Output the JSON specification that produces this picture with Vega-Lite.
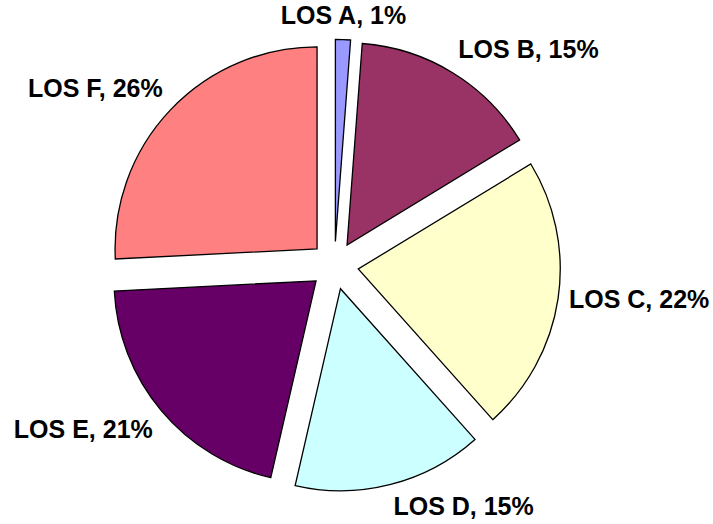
{
  "$schema": "https://vega.github.io/schema/vega-lite/v6.json",
  "width": 713,
  "height": 524,
  "padding": 0,
  "autosize": {"type": "fit", "contains": "padding"},
  "background": "white",
  "config": {"view": {"stroke": null}},
  "data": {
    "values": [
      {"cat": "LOS A", "pct": 1.2},
      {"cat": "LOS B", "pct": 15.1},
      {"cat": "LOS C", "pct": 22.1},
      {"cat": "LOS D", "pct": 15.2},
      {"cat": "LOS E", "pct": 20.6},
      {"cat": "LOS F", "pct": 25.8}
    ]
  },
  "transform": [
    {"window": [{"op": "sum", "field": "pct", "as": "cum"}], "sort": [{"field": "cat"}], "frame": [null, 0]},
    {"calculate": "datum.cum - datum.pct", "as": "start"},
    {"calculate": "datum.cum - datum.pct / 2", "as": "midp"},
    {"calculate": "datum.midp / 100 * 2 * PI", "as": "mid"},
    {"calculate": "0.119 * sin(datum.mid)", "as": "ox"},
    {"calculate": "-0.119 * cos(datum.mid)", "as": "oy"},
    {"calculate": "datum.cat + ', ' + format(datum.pct, '.0f') + '%'", "as": "label"}
  ],
  "encoding": {
    "x": {"field": "ox", "type": "quantitative", "scale": {"domain": [-1.656, 1.874], "zero": false, "nice": false}, "axis": null},
    "y": {"field": "oy", "type": "quantitative", "scale": {"domain": [-1.314, 1.28], "reverse": true, "zero": false, "nice": false}, "axis": null}
  },
  "layer": [
    {
      "mark": {"type": "arc", "outerRadius": 202, "stroke": "black", "strokeWidth": 1.3},
      "encoding": {
        "theta": {"field": "start", "type": "quantitative", "stack": null, "scale": {"domain": [0, 100]}},
        "theta2": {"field": "cum"},
        "color": {
          "field": "cat",
          "type": "nominal",
          "scale": {
            "domain": ["LOS A", "LOS B", "LOS C", "LOS D", "LOS E", "LOS F"],
            "range": ["#9999FF", "#993366", "#FFFFCC", "#CCFFFF", "#660066", "#FF8080"]
          },
          "legend": null
        }
      }
    },
    {
      "mark": {
        "type": "text",
        "radius": 213,
        "font": "Liberation Sans",
        "fontSize": 25,
        "fontWeight": "bold",
        "color": "black",
        "align": {"expr": "sin(datum.mid) > 0.1 ? 'left' : (sin(datum.mid) < -0.1 ? 'right' : 'center')"},
        "baseline": {"expr": "cos(datum.mid) > 0.3 ? 'bottom' : (cos(datum.mid) < -0.3 ? 'top' : 'middle')"}
      },
      "encoding": {
        "theta": {"field": "midp", "type": "quantitative", "stack": null, "scale": {"domain": [0, 100]}},
        "text": {"field": "label", "type": "nominal"}
      }
    }
  ]
}
